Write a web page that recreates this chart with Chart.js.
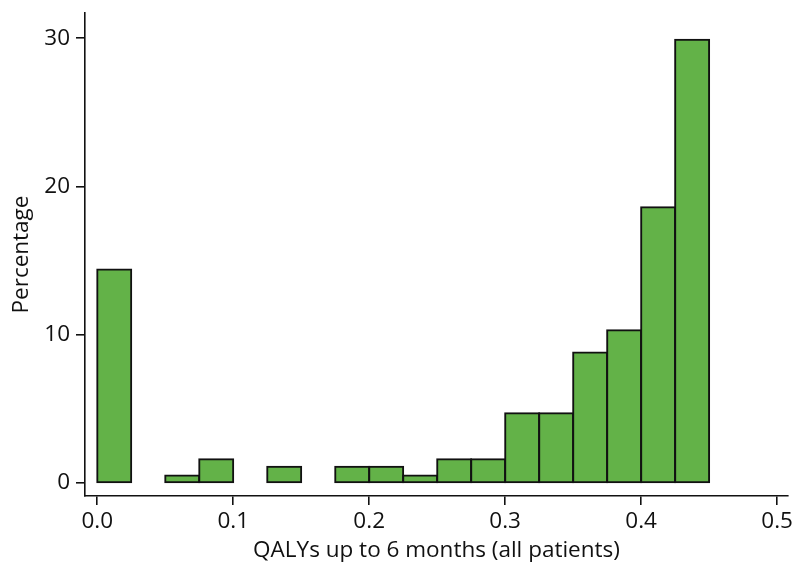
<!DOCTYPE html>
<html>
<head>
<meta charset="utf-8">
<script src="https://cdn.jsdelivr.net/npm/chart.js@4.4.0/dist/chart.umd.min.js"></script>
<style>
  html, body { margin: 0; padding: 0; background: #fff; }
  #wrap { width: 795px; height: 566px; }
</style>
</head>
<body>
<div id="wrap"><canvas id="qalyChart"></canvas></div>
<script>
// left edge of each histogram bin (bin width 0.025)
const binStarts = [0, 0.025, 0.05, 0.075, 0.1, 0.125, 0.15, 0.175, 0.2,
                   0.225, 0.25, 0.275, 0.3, 0.325, 0.35, 0.375, 0.4, 0.425];
// percentage of patients per bin (null = empty bin)
const percentages = [14.4, null, 0.5, 1.6, null, 1.1, null, 1.1, 1.1,
                     0.5, 1.6, 1.6, 4.7, 4.7, 8.8, 10.3, 18.6, 29.9];
const binWidth = 0.025;
const xTicks = [0, 0.1, 0.2, 0.3, 0.4, 0.5];
const yTicks = [0, 10, 20, 30];

const ink = "#111";
const fontFamily = "'Open Sans', sans-serif";
const fontSize = 22.5;

const points = binStarts.map((b, i) => ({ x: b + binWidth / 2, y: percentages[i] }));

// keep the plot box fixed: drop the extra room scales ask for around edge labels
function noEdgePadding(s) {
  s.paddingTop = 0;
  s.paddingBottom = 0;
  s.paddingLeft = 0;
  s.paddingRight = 0;
}

new Chart(document.getElementById("qalyChart").getContext("2d"), {
  type: "bar",
  data: {
    datasets: [{
      data: points,
      backgroundColor: "#63b248",
      borderColor: ink,
      borderWidth: 2,
      borderSkipped: false,
      inflateAmount: 1,
      barPercentage: 1,
      categoryPercentage: 1
    }]
  },
  options: {
    responsive: true,
    maintainAspectRatio: false,
    animation: false,
    layout: { padding: { top: 13, right: 7, left: 0, bottom: 0 } },
    plugins: {
      legend: { display: false },
      tooltip: { enabled: false }
    },
    scales: {
      x: {
        type: "linear",
        offset: false,
        min: -0.009,
        max: 0.508,
        border: { color: ink, width: 1.6 },
        grid: { offset: false, drawOnChartArea: false, drawTicks: true, tickLength: 9, color: ink, lineWidth: 1.6 },
        ticks: {
          color: ink,
          font: { family: fontFamily, size: fontSize },
          padding: 3,
          maxRotation: 0,
          autoSkip: false,
          callback: v => v.toFixed(1)
        },
        afterBuildTicks: s => { s.ticks = xTicks.map(v => ({ value: v })); },
        afterFit: s => { s.height = 70; noEdgePadding(s); },
        title: {
          display: true,
          text: "QALYs up to 6 months (all patients)",
          color: ink,
          font: { family: fontFamily, size: fontSize },
          padding: { top: 0, bottom: 2 }
        }
      },
      y: {
        min: -0.88,
        max: 31.7,
        border: { color: ink, width: 1.6 },
        grid: { drawOnChartArea: false, drawTicks: true, tickLength: 9, color: ink, lineWidth: 1.6 },
        ticks: {
          color: ink,
          font: { family: fontFamily, size: fontSize },
          padding: 6
        },
        afterBuildTicks: s => { s.ticks = yTicks.map(v => ({ value: v })); },
        afterFit: s => { s.width = 85; noEdgePadding(s); },
        title: {
          display: true,
          text: "Percentage",
          color: ink,
          font: { family: fontFamily, size: fontSize },
          padding: { top: 8, bottom: 0 }
        }
      }
    }
  }
});
</script>
</body>
</html>
